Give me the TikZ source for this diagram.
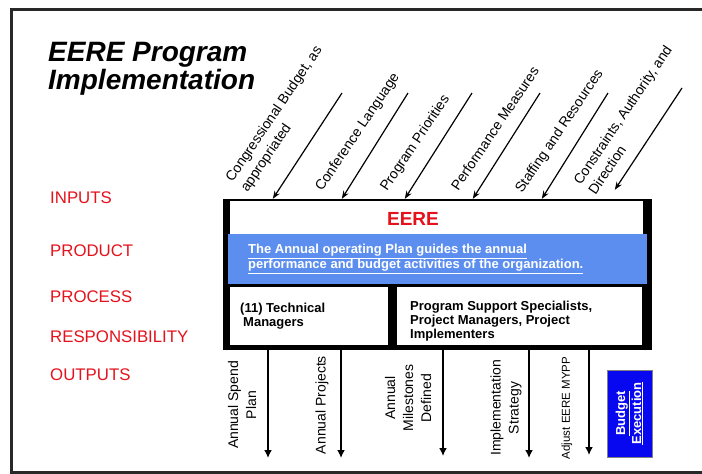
\documentclass[tikz,border=0pt]{standalone}
\usepackage{fontspec}
\setmainfont{Liberation Sans}
\usetikzlibrary{arrows.meta,calc}
\definecolor{labelred}{RGB}{228,18,28}
\definecolor{planblue}{RGB}{92,142,240}
\definecolor{execblue}{RGB}{8,8,240}
\definecolor{framegray}{RGB}{40,40,40}

\begin{document}
\begin{tikzpicture}[x=1pt,y=-1pt,
	rowlabel/.style={anchor=west, inner sep=0, text=labelred, font=\fontsize{16.8}{19}\selectfont},
	inlabel/.style={anchor=west, inner sep=0, rotate=56, align=left, font=\fontsize{14}{18}\selectfont},
	outlabel/.style={inner sep=0, rotate=90, align=center, font=\fontsize{14}{18}\selectfont},
	boxtext/.style={anchor=north west, inner sep=0, align=left, font=\fontsize{13}{14}\selectfont\bfseries},
	inarrow/.style={line width=1.2pt, -{Stealth[length=8pt,width=6pt]}},
	outarrow/.style={line width=1.8pt, -{Latex[length=8pt,width=8pt]}}]
		\useasboundingbox (0,0) rectangle (702,474);
		% frame and title
		\draw[framegray, line width=3pt] (702,9.5) -- (11.5,9.5) -- (11.5,472.5) -- (702,472.5);
		\node[anchor=north west, inner sep=0, align=left, font=\fontsize{28}{28}\selectfont\bfseries\itshape] (title) at (48,42) {EERE Program\\Implementation};
		% row labels
		\node[rowlabel] (inputs) at (50,198) {INPUTS};
		\node[rowlabel] (product) at (50,251) {PRODUCT};
		\node[rowlabel] (process) at (50,297) {PROCESS};
		\node[rowlabel] (resp) at (50,336.5) {RESPONSIBILITY};
		\node[rowlabel] (outputs) at (50,374.5) {OUTPUTS};
		% the EERE box
		\node[fill=black, inner sep=0, minimum width=429, minimum height=151] (box) at (437.5,274.5) {};
		\fill[white] (230,201) rectangle (643,234);
		\fill[planblue] (228,234) rectangle (647,284);
		\fill[white] (230,287) rectangle (388,345);
		\fill[white] (397,287) rectangle (642,345);
		\node[text=labelred, font=\fontsize{19}{19}\selectfont\bfseries] (eere) at (413,219) {EERE};
		\node[boxtext, text=white] (aop) at (248,244) {\underline{The Annual operating Plan guides the annual}\\\underline{performance and budget activities of the organization.}};
		\node[boxtext] (tech) at (240,303) {(11) Technical\\\hspace*{3pt}Managers};
		\node[boxtext] (staff) at (410,301) {Program Support Specialists,\\Project Managers, Project\\Implementers};
		% inputs
		\coordinate (i1) at (342,93);
		\coordinate (i2) at (408,93);
		\coordinate (i3) at (472,93);
		\coordinate (i4) at (540,93);
		\coordinate (i5) at (608,93);
		\coordinate (i6) at (682,88);
		\draw[inarrow] (i1) -- ($(box.north west)+(50,0)$);
		\draw[inarrow] (i2) -- ($(box.north west)+(119,0)$);
		\draw[inarrow] (i3) -- ($(box.north west)+(182,0)$);
		\draw[inarrow] (i4) -- ($(box.north west)+(250,0)$);
		\draw[inarrow] (i5) -- ($(box.north west)+(319,0)$);
		\draw[inarrow] (i6) -- ($(box.north west)+(392,-9)$);
		\node[inlabel] (budget) at (237,186) {Congressional Budget, as\\appropriated};
		\node[inlabel] (conference) at (319,190) {Conference Language};
		\node[inlabel] (priorities) at (384,190) {Program Priorities};
		\node[inlabel] (measures) at (454,189) {Performance Measures};
		\node[inlabel] (staffing) at (519,192) {Staffing and Resources};
		\node[inlabel] (authority) at (584,188) {Constraints, Authority, and\\Direction};
		% outputs
		\coordinate (o1) at (268,458);
		\coordinate (o2) at (341,458);
		\coordinate (o3) at (443,456);
		\coordinate (o4) at (529,458);
		\coordinate (o5) at (589,455);
		\draw[outarrow] (o1 |- box.south) -- (o1);
		\draw[outarrow] (o2 |- box.south) -- (o2);
		\draw[outarrow] (o3 |- box.south) -- (o3);
		\draw[outarrow] (o4 |- box.south) -- (o4);
		\draw[outarrow] (o5 |- box.south) -- (o5);
		\node[outlabel] (spend) at (242,405) {Annual Spend\\Plan};
		\node[outlabel] (projects) at (322,405) {Annual Projects};
		\node[outlabel] (milestones) at (408,398) {Annual\\Milestones\\Defined};
		\node[outlabel] (strategy) at (506,408) {Implementation\\Strategy};
		\node[outlabel, font=\fontsize{11.5}{13}\selectfont] (mypp) at (567,408) {Adjust EERE MYPP};
		\node[rotate=90, fill=execblue, draw=gray, minimum width=87, minimum height=45, inner sep=0, text=white, align=center, font=\fontsize{13}{16}\selectfont\bfseries] (exec) at (629.5,413.5) {\underline{Budget}\\\underline{Execution}};
	\end{tikzpicture}
\end{document}
